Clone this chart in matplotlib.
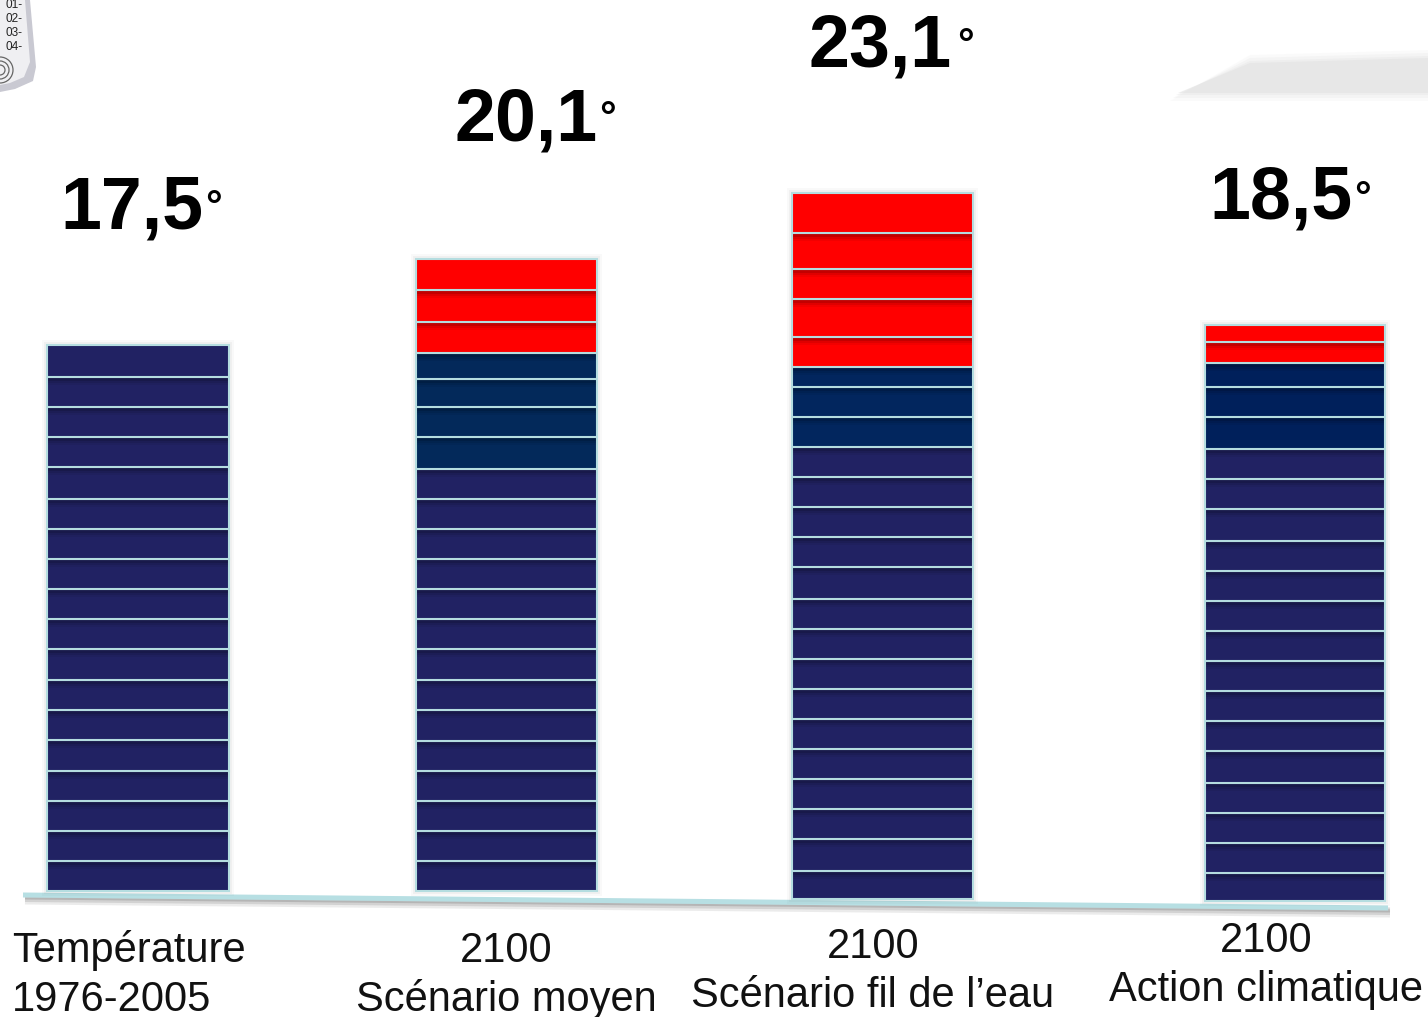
import numpy as np
from matplotlib import pyplot as plt

plt.rcParams['font.family'] = ['Liberation Sans', 'DejaVu Sans']

# scenario labels and temperatures
labels = ['Température\n1976-2005', '2100\nScénario moyen', '2100\nScénario fil de l’eau', '2100\nAction climatique']
temps = ['17,5', '20,1', '23,1', '18,5']

# height of every block in each bar, from the bottom up
blocks_1 = [30, 30, 30, 30, 31, 30, 30, 31, 30, 30, 30, 30, 30, 32, 30, 30, 30, 32]
blocks_2 = [30, 30, 30, 30, 30, 31, 30, 31, 30, 30, 30, 30, 30, 30, 32, 30, 28, 26, 31, 32, 31]
blocks_3 = [28, 32, 30, 30, 30, 30, 30, 30, 30, 30, 32, 30, 30, 30, 30, 30, 30, 20, 30, 38, 30, 36, 40]
blocks_4 = [28, 30, 30, 30, 32, 30, 30, 30, 30, 30, 30, 30, 32, 30, 30, 32, 30, 24, 21, 17]
blocks = [blocks_1, blocks_2, blocks_3, blocks_4]

# how many blocks of each colour (navy, dark blue, red)
n_navy = [18, 14, 15, 15]
n_dark = [0, 4, 3, 3]
n_red = [0, 3, 5, 2]

bar_left = [47, 416, 792, 1205]
bar_base = [126, 126, 118, 116]
bar_width = [182, 181, 181, 180]
text_x = [132, 526, 880, 1281]
text_y = [788, 876, 951, 798]
deg_x = [213, 607, 965, 1362]
deg_y = [808, 897, 970, 817]
label_x = [12, 506, 873, 1266]
label_ha = ['left', 'center', 'center', 'center']
label_y = [0, 0, 4, 10]

navy = '#212263'
dark = ['#03295a', '#03295a', '#02265e', '#00205b']
red = '#ff0000'
edge = '#b5dde0'

fig = plt.figure(figsize=(14.28, 10.17), dpi=100)
ax = fig.add_axes([0, 0, 1, 1])
ax.set_xlim(0, 1428)
ax.set_ylim(0, 1017)
ax.axis('off')

# grey smear, top right
for grow, a in zip([8, 5, 2, 0], [0.15, 0.25, 0.35, 0.6]):
    ax.fill([1178 - grow, 1250, 1428, 1428], [924 - grow, 954 + grow, 959 + grow, 924 - grow],
            color='#e3e3e3', alpha=a, lw=0, zorder=1)

# thermometer corner
ax.fill([0, 26, 30, 36, 33, 15, 0], [1017, 1017, 1017, 950, 936, 928, 925], color='#c9c9d2', lw=0, zorder=1)
ax.fill([0, 25, 30, 24, 10, 0], [1017, 1017, 955, 940, 934, 932], color='#efeff2', lw=0, zorder=2)
for i, s in enumerate(['01-', '02-', '03-', '04-']):
    ax.text(23, 1012 - i * 14, s, fontsize=8.5, ha='right', va='center', color='#222222', zorder=3)
for r in [5, 9, 13]:
    ax.add_patch(plt.Circle((0, 947), r, fill=False, ec='#666666', lw=0.9, zorder=3))

# base line with its shadow
base_x = np.array([23, 1388])
for off, lw, a in zip([6, 4, 2], [7, 6, 5], [0.1, 0.15, 0.2]):
    ax.plot(base_x + 2, np.array([122, 109]) - off, color='#444444', lw=lw * 0.72, alpha=a,
            solid_capstyle='butt', zorder=2)
ax.plot(base_x, [122, 109], color='#b7dfe3', lw=3.6, solid_capstyle='butt', zorder=3)

for i in range(4):
    h = np.array(blocks[i])
    bottoms = bar_base[i] + np.concatenate([[0], np.cumsum(h)[:-1]])
    colors = [navy] * n_navy[i] + [dark[i]] * n_dark[i] + [red] * n_red[i]
    # soft shadow round the whole bar
    for grow, a in zip([5, 3, 1], [0.03, 0.05, 0.08]):
        ax.bar(bar_left[i] - grow, h.sum() + 2 * grow, width=bar_width[i] + 2 * grow, bottom=bar_base[i] - grow,
               align='edge', color='#555555', alpha=a, lw=0, zorder=3)
    ax.bar(bar_left[i], h, width=bar_width[i], bottom=bottoms, align='edge', color=colors,
           edgecolor=edge, linewidth=1.5, zorder=4)
    # dark fade at the top of every block but the last
    for b, hh in zip(bottoms[:-1], h[:-1]):
        for d, a in zip([7, 5, 3], [0.05, 0.08, 0.12]):
            ax.bar(bar_left[i] + 1, d, width=bar_width[i] - 2, bottom=b + hh - d - 1, align='edge',
                   color='black', alpha=a, lw=0, zorder=5)
    ax.text(text_x[i], text_y[i], temps[i], fontsize=53, fontweight='bold', ha='center', va='baseline',
            color='black', zorder=6)
    ax.text(deg_x[i], deg_y[i], '°', fontsize=30, fontweight='bold', ha='center', va='center',
            color='black', zorder=6)
    first, second = labels[i].split('\n')
    ax.text(label_x[i], 55 + label_y[i], first, fontsize=30, ha=label_ha[i], va='baseline',
            color='#111111', zorder=6)
    ax.text(label_x[i], 6 + label_y[i], second, fontsize=30, ha=label_ha[i], va='baseline',
            color='#111111', zorder=6)

fig.savefig('out.png', dpi=100)
